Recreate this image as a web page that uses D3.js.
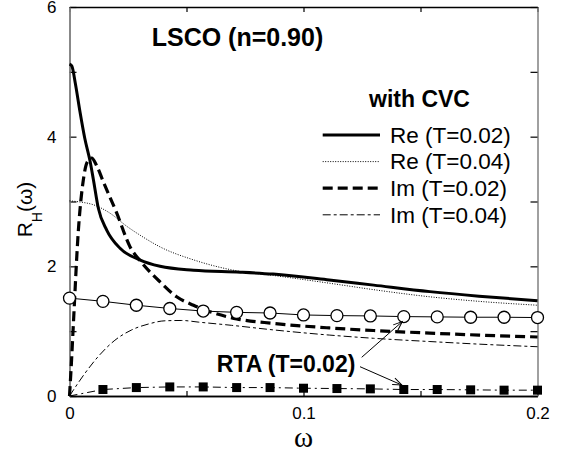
<!DOCTYPE html>
<html>
<head>
<meta charset="utf-8">
<script src="https://cdn.jsdelivr.net/npm/d3@7"></script>
<style>
  html, body { margin: 0; padding: 0; background: #fff; }
  svg { display: block; font-family: "Liberation Sans", Arial, sans-serif; }
</style>
</head>
<body>
<div id="chart"></div>
<script>
// with CVC, [omega, R_H]
const reT02 = [
  [0, 5.12], [0.001, 5.09], [0.0025, 4.82], [0.0045, 4.38], [0.0065, 3.98],
  [0.0088, 3.62], [0.0102, 3.34], [0.0123, 2.9], [0.0159, 2.56], [0.0216, 2.28],
  [0.03, 2.1], [0.0387, 2.0], [0.053, 1.94], [0.073, 1.91], [0.087, 1.88],
  [0.111, 1.79], [0.13, 1.71], [0.154, 1.61], [0.175, 1.54], [0.2, 1.47]
];
const reT04 = [
  [0, 3.01], [0.005, 2.99], [0.0102, 2.95], [0.0173, 2.82], [0.0244, 2.62],
  [0.0315, 2.45], [0.0387, 2.3], [0.053, 2.1], [0.0715, 1.93], [0.087, 1.86],
  [0.111, 1.74], [0.13, 1.64], [0.154, 1.53], [0.175, 1.46], [0.2, 1.4]
];
const imT02 = [
  [0, 0], [0.0008, 0.5], [0.0016, 1.07], [0.0038, 2.56], [0.0059, 3.33],
  [0.0075, 3.6], [0.0095, 3.67], [0.0115, 3.56], [0.0145, 3.3], [0.0202, 2.82],
  [0.0259, 2.3], [0.0308, 2.06], [0.0387, 1.76], [0.0458, 1.53], [0.053, 1.4],
  [0.06, 1.3], [0.0715, 1.19], [0.087, 1.12], [0.111, 1.05], [0.13, 1.01],
  [0.154, 0.97], [0.175, 0.94], [0.2, 0.91]
];
const imT04 = [
  [0, 0], [0.0066, 0.35], [0.0123, 0.61], [0.0194, 0.86], [0.0266, 1.02],
  [0.0337, 1.11], [0.0408, 1.16], [0.048, 1.165], [0.055, 1.14], [0.0693, 1.09],
  [0.087, 1.02], [0.111, 0.94], [0.13, 0.89], [0.154, 0.84], [0.175, 0.8], [0.2, 0.76]
];

// RTA (T=0.02), sampled every 0.2/14
const rtaOmega = d3.range(15).map((i) => (i * 0.2) / 14);
const rtaRe = [1.51, 1.46, 1.4, 1.35, 1.31, 1.29, 1.28, 1.25, 1.24, 1.235, 1.225, 1.22, 1.215, 1.215, 1.21];
const rtaIm = [0, 0.1, 0.13, 0.14, 0.14, 0.13, 0.13, 0.12, 0.115, 0.11, 0.1, 0.1, 0.095, 0.09, 0.09];

const legendLabels = ["Re (T=0.02)", "Re (T=0.04)", "Im (T=0.02)", "Im (T=0.04)"];
const xTicks = [0, 0.1, 0.2];
const yTicks = [0, 2, 4, 6];

const width = 562;
const height = 454;
const margin = { top: 7, right: 24.5, bottom: 58, left: 69.5 };

const x = d3.scaleLinear().domain([0, 0.2]).range([margin.left, width - margin.right]);
const y = d3.scaleLinear().domain([0, 6]).range([height - margin.bottom, margin.top]);

const svg = d3
  .select("#chart")
  .append("svg")
  .attr("width", width)
  .attr("height", height);

const styles = [
  { width: 3, dash: null },
  { width: 1, dash: "1,1.5" },
  { width: 3.2, dash: "10,5" },
  { width: 1, dash: "8,3,3,3" }
];

const line = d3
  .line()
  .x((d) => x(d[0]))
  .y((d) => y(d[1]))
  .curve(d3.curveMonotoneX);

// frame + ticks
const tickStyle = (g, color) => {
  g.select(".domain").attr("stroke", color).attr("stroke-width", 1.5);
  g.selectAll(".tick line").attr("stroke", "#000").attr("stroke-width", 1.2);
  g.selectAll(".tick text").attr("fill", "#000").attr("font-size", 17);
};

svg
  .append("g")
  .attr("transform", `translate(0,${y(0)})`)
  .call(d3.axisBottom(x).tickValues(d3.range(0, 0.2001, 0.05)).tickSizeInner(-5).tickSizeOuter(0).tickFormat(""))
  .call((g) => tickStyle(g, "#000"));

svg
  .append("g")
  .attr("transform", `translate(0,${y(0)})`)
  .call(d3.axisBottom(x).tickValues(xTicks).tickSize(0).tickPadding(11).tickFormat(d3.format("~g")))
  .call((g) => tickStyle(g, "#000"));

svg
  .append("g")
  .attr("transform", `translate(0,${y(6)})`)
  .call(d3.axisTop(x).tickValues(d3.range(0, 0.2001, 0.05)).tickSizeInner(-5).tickSizeOuter(0).tickFormat(""))
  .call((g) => tickStyle(g, "#000"));

svg
  .append("g")
  .attr("transform", `translate(${x(0)},0)`)
  .call(d3.axisLeft(y).ticks(6).tickSizeInner(-7).tickSizeOuter(0).tickFormat(""))
  .call((g) => tickStyle(g, "#808080"));

svg
  .append("g")
  .attr("transform", `translate(${x(0)},0)`)
  .call(d3.axisLeft(y).tickValues(yTicks).tickSize(0).tickPadding(13).tickFormat(d3.format("~g")))
  .call((g) => tickStyle(g, "#808080"));

svg
  .append("g")
  .attr("transform", `translate(${x(0.2)},0)`)
  .call(d3.axisRight(y).ticks(6).tickSizeInner(-7).tickSizeOuter(0).tickFormat(""))
  .call((g) => tickStyle(g, "#808080"));

// curves
const curves = svg.append("g").attr("fill", "none").attr("stroke", "#000");
[reT02, reT04, imT02, imT04].forEach((data, i) => {
  curves
    .append("path")
    .attr("d", line(data))
    .attr("stroke-width", styles[i].width)
    .attr("stroke-dasharray", styles[i].dash);
});

const rtaReData = rtaOmega.map((w, i) => [w, rtaRe[i]]);
const rtaImData = rtaOmega.map((w, i) => [w, rtaIm[i]]);

const straight = d3.line().x((d) => x(d[0])).y((d) => y(d[1]));

svg
  .append("path")
  .attr("d", straight(rtaImData))
  .attr("fill", "none")
  .attr("stroke", "#000")
  .attr("stroke-width", 1)
  .attr("stroke-dasharray", "8,4,2,4");

svg
  .append("g")
  .selectAll("rect")
  .data(rtaImData.slice(1))
  .join("rect")
  .attr("x", (d) => x(d[0]) - 4.5)
  .attr("y", (d) => y(d[1]) - 4.5)
  .attr("width", 9)
  .attr("height", 9)
  .attr("fill", "#000");

svg
  .append("path")
  .attr("d", straight(rtaReData))
  .attr("fill", "none")
  .attr("stroke", "#000")
  .attr("stroke-width", 1);

svg
  .append("g")
  .selectAll("circle")
  .data(rtaReData)
  .join("circle")
  .attr("cx", (d) => x(d[0]))
  .attr("cy", (d) => y(d[1]))
  .attr("r", 6)
  .attr("fill", "#fff")
  .attr("stroke", "#000")
  .attr("stroke-width", 1.3);

// labels
svg
  .append("text")
  .attr("x", 151.7)
  .attr("y", 46)
  .attr("font-size", 25)
  .attr("font-weight", "bold")
  .text("LSCO (n=0.90)");

svg
  .append("text")
  .attr("x", 369)
  .attr("y", 107)
  .attr("font-size", 23)
  .attr("font-weight", "bold")
  .text("with CVC");

const legend = svg.append("g");
legendLabels.forEach((label, i) => {
  const ly = 135 + i * 26.6;
  legend
    .append("line")
    .attr("x1", 322.7)
    .attr("x2", 380)
    .attr("y1", ly)
    .attr("y2", ly)
    .attr("stroke", "#000")
    .attr("stroke-width", styles[i].width)
    .attr("stroke-dasharray", styles[i].dash);
  legend
    .append("text")
    .attr("x", 390)
    .attr("y", ly)
    .attr("dy", "0.35em")
    .attr("font-size", 22.5)
    .text(label);
});

svg
  .append("text")
  .attr("x", 216.7)
  .attr("y", 371.7)
  .attr("font-size", 23)
  .attr("font-weight", "bold")
  .text("RTA (T=0.02)");

svg
  .append("defs")
  .append("marker")
  .attr("id", "arrow")
  .attr("viewBox", "-10 -5 12 10")
  .attr("markerWidth", 12)
  .attr("markerHeight", 10)
  .attr("markerUnits", "userSpaceOnUse")
  .attr("orient", "auto")
  .append("path")
  .attr("d", "M-9,-3.5L0,0L-9,3.5")
  .attr("fill", "none")
  .attr("stroke", "#000")
  .attr("stroke-width", 1);

const arrows = [
  { from: [361.7, 357.3], to: [x(rtaOmega[10]) - 1.5, y(rtaRe[10]) + 5] },
  { from: [360, 366.7], to: [x(rtaOmega[10]) - 2, y(rtaIm[10]) - 4.5] }
];
svg
  .append("g")
  .selectAll("line")
  .data(arrows)
  .join("line")
  .attr("x1", (d) => d.from[0])
  .attr("y1", (d) => d.from[1])
  .attr("x2", (d) => d.to[0])
  .attr("y2", (d) => d.to[1])
  .attr("stroke", "#000")
  .attr("stroke-width", 1)
  .attr("marker-end", "url(#arrow)");

// axis titles
svg
  .append("text")
  .attr("x", x(0.1))
  .attr("y", 447)
  .attr("text-anchor", "middle")
  .attr("font-family", "'Liberation Serif', 'Times New Roman', serif")
  .attr("font-size", 29)
  .text("ω");

const yLabel = svg
  .append("text")
  .attr("transform", "translate(32,209.5) rotate(-90)")
  .attr("text-anchor", "middle")
  .attr("font-size", 21);
yLabel.append("tspan").text("R");
yLabel.append("tspan").attr("font-size", 14).attr("dy", 10).text("H");
yLabel.append("tspan").attr("dy", -10).text("(ω)");
</script>
</body>
</html>
